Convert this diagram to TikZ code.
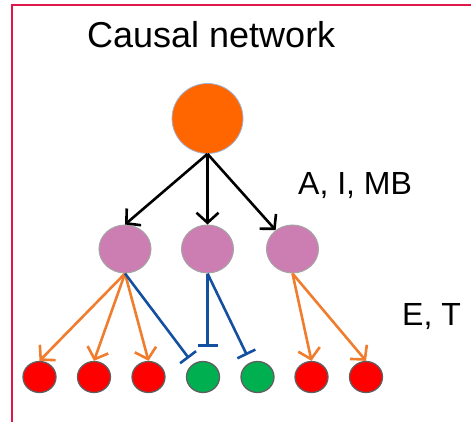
\documentclass[tikz,border=0pt]{standalone}
\usepackage{fontspec}
\setmainfont{Liberation Sans}
\usetikzlibrary{arrows.meta,shapes.geometric}
\definecolor{framered}{RGB}{222,24,72}
\definecolor{rootorange}{RGB}{255,102,0}
\definecolor{rootrim}{RGB}{160,180,215}
\definecolor{midpink}{RGB}{204,126,178}
\definecolor{midrim}{RGB}{165,165,165}
\definecolor{leafred}{RGB}{255,0,0}
\definecolor{leafgreen}{RGB}{0,176,80}
\definecolor{leafrim}{RGB}{95,95,95}
\definecolor{actorange}{RGB}{240,125,45}
\definecolor{inhblue}{RGB}{20,80,160}
\begin{document}
\begin{tikzpicture}[x=1pt,y=-1pt,
  rootnode/.style={ellipse,fill=rootorange,draw=rootrim,line width=0.8pt,
    minimum width=71pt,minimum height=70pt,inner sep=0pt},
  midnode/.style={ellipse,fill=midpink,draw=midrim,line width=1pt,
    minimum width=52pt,minimum height=48pt,inner sep=0pt},
  leafnode/.style={ellipse,draw=leafrim,line width=1.3pt,
    minimum width=33pt,minimum height=31pt,inner sep=0pt},
  upreg/.style={fill=leafred},
  downreg/.style={fill=leafgreen},
  causal/.style={draw=black,line width=2.6pt,
    -{Straight Barb[length=10pt,width=22pt,line width=2.6pt]}},
  activate/.style={draw=actorange,line width=2.6pt,
    -{Straight Barb[length=10pt,width=22pt,line width=2.6pt]}},
  inhibit/.style={draw=inhblue,line width=2.6pt,
    -{Bar[width=20pt,line width=2.6pt]}},
  label/.style={inner sep=0pt,anchor=base west}
]
\useasboundingbox (0,0) rectangle (471,422);
\draw[framered,line width=1.6pt] (12,422) -- (12,5) -- (471,5);

\node[label,font=\fontsize{36}{40}\selectfont] (title) at (87,48) {Causal network};
\node[label,font=\fontsize{32}{36}\selectfont] (lvlA) at (298,195) {A, I, MB};
\node[label,font=\fontsize{32}{36}\selectfont] (lvlE) at (402,325) {E, T};

% regulator
\node[rootnode] (root) at (207.5,118.5) {};

% intermediate layer
\node[midnode] (m1) at (125,249) {};
\node[midnode] (m2) at (207.5,249) {};
\node[midnode] (m3) at (292.5,249) {};

% effector layer
\node[leafnode,upreg]   (l1) at (39.5,377) {};
\node[leafnode,upreg]   (l2) at (94,377) {};
\node[leafnode,upreg]   (l3) at (148.5,377) {};
\node[leafnode,downreg] (l4) at (203,377) {};
\node[leafnode,downreg] (l5) at (257.5,377) {};
\node[leafnode,upreg]   (l6) at (311.5,377) {};
\node[leafnode,upreg]   (l7) at (366,377) {};

% causal links
\draw[causal] (root.south) -- (m1.north);
\draw[causal] (root.south) -- (m2.north);
\draw[causal] (root.south) -- (m3);

% activating links
\draw[activate] (m1.south) -- (l1.north);
\draw[activate] (m1.south) -- (l2.north);
\draw[activate] (m1.south) -- (l3.north);
\draw[activate] (m3.south) -- (l6.north);
\draw[activate] (m3.south) -- (l7.north);

% inhibiting links
\draw[inhibit,shorten >=7pt] (m1.south) -- (l4);
\draw[inhibit,shorten >=14pt] (m2.south) -- (m2.south |- l4.north);
\draw[inhibit,shorten >=8pt] (m2.south) -- (l5);
\end{tikzpicture}
\end{document}
